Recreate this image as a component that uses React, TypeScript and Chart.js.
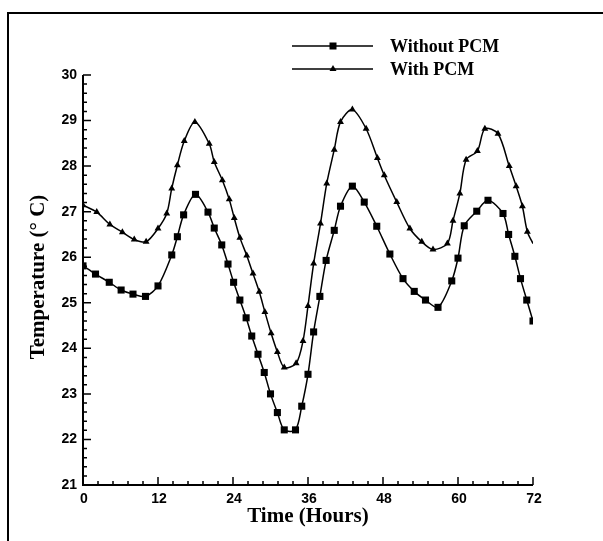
import React, { useEffect, useRef } from "react";
import { Chart, registerables } from "chart.js";

Chart.register(...registerables);

const hourTicks = [0, 12, 24, 36, 48, 60, 72];
const tempTicks = [21, 22, 23, 24, 25, 26, 27, 28, 29, 30];
const seriesNames = ["Without PCM", "With PCM"];
const xTitle = "Time (Hours)";
const yTitle = "Temperature (° C)";

const withoutHours = [
  0, 2, 4.2, 6.1, 8, 10, 12, 14.2, 15.1, 16.1, 18, 20, 21, 22.2, 23.2, 24.1, 25.1, 26.1, 27, 28, 29, 30,
  31.1, 32.2, 34, 35, 36, 36.9, 37.9, 38.9, 40.2, 41.2, 43.1, 45, 47, 49.1, 51.2, 53, 54.8, 56.8, 59, 60,
  61, 63, 64.8, 67.2, 68.1, 69.1, 70, 71, 72,
];
const withoutTemp = [
  25.81, 25.63, 25.45, 25.28, 25.19, 25.14, 25.37, 26.05, 26.45, 26.93, 27.38, 26.99, 26.64, 26.27, 25.85,
  25.45, 25.06, 24.67, 24.27, 23.87, 23.47, 23.0, 22.59, 22.21, 22.21, 22.73, 23.43, 24.36, 25.14, 25.93,
  26.59, 27.12, 27.56, 27.21, 26.68, 26.07, 25.53, 25.25, 25.06, 24.9, 25.48, 25.98, 26.69, 27.01, 27.25,
  26.96, 26.5, 26.02, 25.53, 25.06, 24.6,
];

const withHours = [
  0, 2.2, 4.3, 6.3, 8.2, 10.1, 12, 13.4, 14.2, 15.1, 16.2, 17.9, 20.2, 21, 22.3, 23.4, 24.2, 25.1, 26.2,
  27.2, 28.2, 29.1, 30.1, 31.1, 32.2, 34.1, 35.2, 36, 36.9, 38, 39, 40.2, 41.2, 43.1, 45.3, 47.1, 48.2, 50.2,
  52.3, 54.2, 56, 58.3, 59.2, 60.3, 61.3, 63.1, 64.3, 66.4, 68.2, 69.3, 70.3, 71.1, 72,
];
const withTemp = [
  27.14, 26.99, 26.72, 26.55, 26.39, 26.34, 26.63, 26.96, 27.51, 28.02, 28.55, 28.97, 28.49, 28.09, 27.69,
  27.27, 26.86, 26.43, 26.04, 25.64, 25.24, 24.8, 24.33, 23.92, 23.58, 23.67, 24.16, 24.93, 25.86, 26.74,
  27.62, 28.36, 28.97, 29.24, 28.82, 28.18, 27.8, 27.21, 26.63, 26.34, 26.17, 26.3, 26.8, 27.4, 28.14,
  28.33, 28.82, 28.71, 28.0, 27.56, 27.12, 26.56, 26.3,
];

const decorPlugin = {
  id: "decor",
  afterDraw(chart: any) {
    const ctx = chart.ctx as CanvasRenderingContext2D;
    const xs = chart.scales.x;
    const ys = chart.scales.y;
    const x0 = xs.getPixelForValue(hourTicks[0]);
    const x1 = xs.getPixelForValue(hourTicks[hourTicks.length - 1]);
    const y0 = ys.getPixelForValue(tempTicks[0]);
    const y1 = ys.getPixelForValue(tempTicks[tempTicks.length - 1]);
    ctx.save();
    ctx.fillStyle = "#000";
    ctx.strokeStyle = "#000";

    // outer frame (top & left)
    ctx.fillRect(7, 12, chart.width - 7, 2);
    ctx.fillRect(7, 12, 2, chart.height - 12);

    // axes
    ctx.lineWidth = 2;
    ctx.beginPath();
    ctx.moveTo(x0, y1);
    ctx.lineTo(x0, y0);
    ctx.lineTo(x1, y0);
    ctx.stroke();

    // ticks (inward)
    ctx.lineWidth = 1.5;
    ctx.beginPath();
    for (let i = 0; i < tempTicks.length; i++) {
      const py = ys.getPixelForValue(tempTicks[i]);
      ctx.moveTo(x0, py);
      ctx.lineTo(x0 + 8, py);
      if (i < tempTicks.length - 1) {
        for (let k = 1; k < 5; k++) {
          const pm = ys.getPixelForValue(tempTicks[i] + k * 0.2);
          ctx.moveTo(x0, pm);
          ctx.lineTo(x0 + 4, pm);
        }
      }
    }
    for (let i = 0; i < hourTicks.length; i++) {
      const px = xs.getPixelForValue(hourTicks[i]);
      ctx.moveTo(px, y0);
      ctx.lineTo(px, y0 - 8);
      if (i < hourTicks.length - 1) {
        for (let k = 1; k < 5; k++) {
          const pm = xs.getPixelForValue(hourTicks[i] + k * 2.4);
          ctx.moveTo(pm, y0);
          ctx.lineTo(pm, y0 - 4);
        }
      }
    }
    ctx.stroke();

    // tick labels
    ctx.font = 'bold 14px "Liberation Sans"';
    ctx.textAlign = "right";
    ctx.textBaseline = "middle";
    for (const t of tempTicks) {
      ctx.fillText(String(t), x0 - 6, ys.getPixelForValue(t));
    }
    ctx.textAlign = "center";
    ctx.textBaseline = "top";
    for (const h of hourTicks) {
      ctx.fillText(String(h), xs.getPixelForValue(h) + 1, y0 + 7);
    }

    // axis titles
    ctx.font = 'bold 21px "Liberation Serif"';
    ctx.textAlign = "center";
    ctx.textBaseline = "middle";
    ctx.fillText(xTitle, (x0 + x1) / 2, y0 + 32);
    ctx.save();
    ctx.translate(39, 277);
    ctx.rotate(-Math.PI / 2);
    ctx.fillText(yTitle, 0, 0);
    ctx.restore();

    // legend
    const lx0 = 292;
    const lx1 = 373;
    const lm = 333;
    const rows = [46, 69];
    ctx.lineWidth = 1.5;
    for (let r = 0; r < rows.length; r++) {
      ctx.beginPath();
      ctx.moveTo(lx0, rows[r]);
      ctx.lineTo(lx1, rows[r]);
      ctx.stroke();
      if (r === 0) {
        ctx.fillRect(lm - 3.5, rows[r] - 3.5, 7, 7);
      } else {
        ctx.beginPath();
        ctx.moveTo(lm, rows[r] - 4);
        ctx.lineTo(lm + 3.5, rows[r] + 2);
        ctx.lineTo(lm - 3.5, rows[r] + 2);
        ctx.closePath();
        ctx.fill();
      }
      ctx.font = 'bold 18px "Liberation Serif"';
      ctx.textAlign = "left";
      ctx.textBaseline = "middle";
      ctx.fillText(seriesNames[r], 390, rows[r] + 1);
    }
    ctx.restore();
  },
};

export default function App() {
  const ref = useRef<HTMLCanvasElement | null>(null);
  useEffect(() => {
    if (!ref.current) return;
    const chart = new Chart(ref.current, {
      type: "line",
      data: {
        datasets: [
          {
            label: seriesNames[0],
            data: withoutHours.map((h, i) => ({ x: h, y: withoutTemp[i] })),
            borderColor: "#000",
            borderWidth: 1.5,
            backgroundColor: "#000",
            pointStyle: "rect",
            pointRadius: 5,
            pointBorderWidth: 0,
            pointBackgroundColor: "#000",
            tension: 0.3,
            fill: false,
          },
          {
            label: seriesNames[1],
            data: withHours.map((h, i) => ({ x: h, y: withTemp[i] })),
            borderColor: "#000",
            borderWidth: 1.5,
            backgroundColor: "#000",
            pointStyle: "triangle",
            pointRadius: (c: any) => (c.dataIndex === withHours.length - 1 ? 0 : 4),
            pointBorderWidth: 0,
            pointBackgroundColor: "#000",
            tension: 0.3,
            fill: false,
          },
        ],
      },
      options: {
        responsive: false,
        animation: false,
        devicePixelRatio: 1,
        layout: { padding: { left: 83, right: 70, top: 75, bottom: 56 } },
        plugins: { legend: { display: false }, tooltip: { enabled: false } },
        scales: {
          x: { type: "linear", min: 0, max: 72, display: false },
          y: { type: "linear", min: 21, max: 30, display: false },
        },
      },
      plugins: [decorPlugin],
    });
    return () => chart.destroy();
  }, []);
  return (
    <div style={{ position: "fixed", left: 0, top: 0, width: 603, height: 541, background: "#fff" }}>
      <canvas ref={ref} width={603} height={541} style={{ width: 603, height: 541 }} />
    </div>
  );
}
